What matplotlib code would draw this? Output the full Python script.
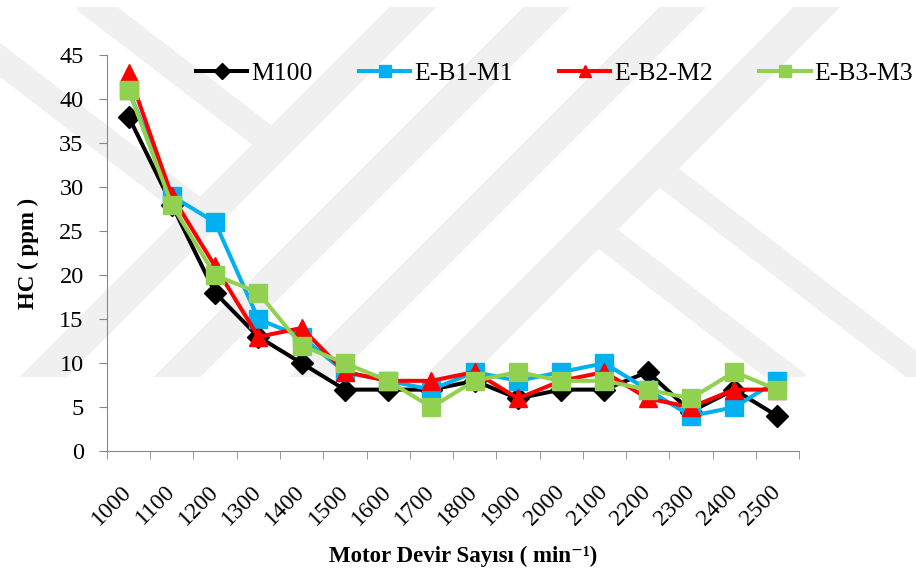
import matplotlib
matplotlib.use("Agg")
import matplotlib.pyplot as plt
import matplotlib.transforms as mtransforms
from matplotlib.patches import Rectangle

plt.rcParams["font.family"] = ["Liberation Serif", "DejaVu Serif"]

rpm = ["1000", "1100", "1200", "1300", "1400", "1500", "1600", "1700",
       "1800", "1900", "2000", "2100", "2200", "2300", "2400", "2500"]
m100 = [38, 28, 18, 13, 10, 7, 7, 7, 8, 6, 7, 7, 9, 4.5, 7, 4]
eb1m1 = [41, 29, 26, 15, 13, 9, 8, 7, 9, 8, 9, 10, 7, 4, 5, 8]
eb2m2 = [43, 29, 21, 13, 14, 9, 8, 8, 9, 6, 8, 9, 6, 5, 7, 7]
eb3m3 = [41, 28, 20, 18, 12, 10, 8, 5, 8, 9, 8, 8, 7, 6, 9, 7]

series = [
    ("M100", m100, "black", "D", 11),
    ("E-B1-M1", eb1m1, "#00b0f0", "s", 13),
    ("E-B2-M2", eb2m2, "red", "^", 13),
    ("E-B3-M3", eb3m3, "#92d050", "s", 13),
]

fig = plt.figure(figsize=(9.16, 5.8), dpi=100)

# faint watermark in the background (pixel coords of the page)
bg = fig.add_axes([0, 0, 1, 1], zorder=-1)
bg.set_xlim(0, 916)
bg.set_ylim(580, 0)
bg.axis("off")
clip = Rectangle((0, 7), 916, 370, transform=bg.transData)
wm = "#f0f0f0"
slash = [((43, 377), (413, 7)), ((177, 377), (547, 7)),
         ((313, 377), (683, 7)), ((447, 377), (817, 7))]
back = [((95, 7), (275, 145)), ((0, 60), (203, 216)),
        ((656, 168), (928, 377)), ((595, 229), (787, 377))]
for segs, lw in ((slash, 24), (back, 19.5)):
    for p, q in segs:
        ln, = bg.plot([p[0], q[0]], [p[1], q[1]], color=wm, lw=lw,
                      solid_capstyle="projecting")
        ln.set_clip_path(clip)

ax = fig.add_axes([0.1168, 0.222, 0.7555, 0.683])
ax.patch.set_alpha(0)
x = list(range(len(rpm)))
for name, vals, col, mk, ms in series:
    ax.plot(x, vals, color=col, lw=2.9, marker=mk, markersize=ms,
            markeredgecolor=col, label=name, zorder=3)

ax.set_xlim(-0.5, len(rpm) - 0.5)
ax.set_ylim(0, 45)
ax.set_yticks(range(0, 46, 5))
ax.set_xticks(x)
ax.set_xticklabels(rpm, rotation=45, ha="right", va="center", rotation_mode="anchor")
shift = mtransforms.ScaledTranslation(8 / 100, 0, fig.dpi_scale_trans)
for lbl in ax.get_xticklabels():
    lbl.set_transform(lbl.get_transform() + shift)
ax.set_xticks([i - 0.5 for i in range(len(rpm) + 1)], minor=True)
ax.tick_params(axis="x", which="major", length=0, labelsize=17, pad=27)
ax.tick_params(axis="x", which="minor", length=5.8, color="#888888", direction="out")
ax.tick_params(axis="y", length=5.8, color="#888888", labelsize=17.5, pad=11)
for s in ("top", "right"):
    ax.spines[s].set_visible(False)
for s in ("left", "bottom"):
    ax.spines[s].set_color("#888888")

ax.set_ylabel("HC ( ppm )", fontsize=16.5, fontweight="bold", va="center")
ax.yaxis.set_label_coords(-0.113, 0.5)
ax.set_xlabel("Motor Devir Sayısı ( min⁻¹)", fontsize=16.5, fontweight="bold", va="center")
ax.xaxis.set_label_coords(0.514, -0.265)

fig.legend(loc="center left", bbox_to_anchor=(0.214, 0.874), ncol=4, frameon=False,
           fontsize=18.5, handlelength=2.0, handletextpad=0.15, columnspacing=1.8,
           markerscale=0.7, borderpad=0, borderaxespad=0)

fig.savefig("out.png", dpi=100)
